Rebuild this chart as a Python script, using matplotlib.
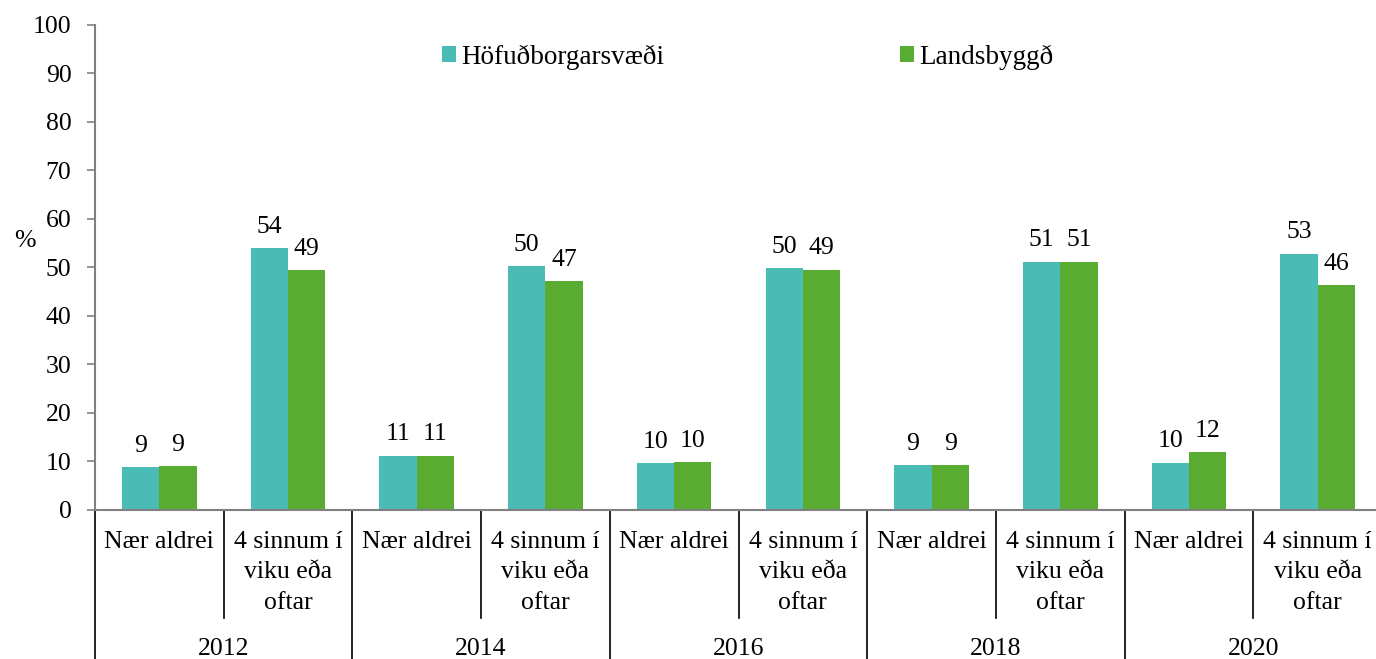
import matplotlib
matplotlib.use("Agg")
import matplotlib.pyplot as plt
import matplotlib.transforms as mtransforms
import numpy as np

plt.rcParams['font.family'] = 'Liberation Serif'

years = ["2012", "2014", "2016", "2018", "2020"]
categories = ["Nær aldrei", "4 sinnum í\nviku eða\noftar"]
series_names = ["Höfuðborgarsvæði", "Landsbyggð"]
hofud = [8.9, 53.9, 11.2, 50.2, 9.7, 49.9, 9.3, 51.2, 9.75, 52.8]
lands = [9.1, 49.4, 11.2, 47.2, 9.9, 49.5, 9.3, 51.2, 11.9, 46.4]
hofud_labels = ["9", "54", "11", "50", "10", "50", "9", "51", "10", "53"]
lands_labels = ["9", "49", "11", "47", "10", "49", "9", "51", "12", "46"]

teal = "#4BBBB6"
green = "#5AAB32"
FS = 18.5
LFS = 19.5
FAM = "Liberation Serif"

W, H = 1376, 659
fig = plt.figure(figsize=(W / 100, H / 100), dpi=100)
ax = fig.add_axes([95 / W, (H - 510) / H, (1382 - 95) / W, (510 - 24.7) / H])

n = len(hofud)
x = np.arange(n) + 0.5
bw = 0.29
b1 = ax.bar(x - bw / 2, hofud, bw, color=teal, label=series_names[0])
b2 = ax.bar(x + bw / 2, lands, bw, color=green, label=series_names[1])

for xi, v, t in zip(x - bw / 2, hofud, hofud_labels):
    ax.annotate(t, (xi, v), xytext=(0, 11), textcoords="offset points",
                ha="center", va="baseline", fontsize=FS, family=FAM)
for xi, v, t in zip(x + bw / 2, lands, lands_labels):
    ax.annotate(t, (xi, v), xytext=(0, 11), textcoords="offset points",
                ha="center", va="baseline", fontsize=FS, family=FAM)

ax.set_xlim(0, n)
ax.set_ylim(0, 100)
ax.set_yticks(np.arange(0, 101, 10))
ax.tick_params(axis="y", labelsize=FS, length=6, width=1.2, color="#808080", pad=11)
for lab in ax.get_yticklabels():
    lab.set_family(FAM)
ax.set_xticks([])
for s in ["top", "right"]:
    ax.spines[s].set_visible(False)
for s in ["left", "bottom"]:
    ax.spines[s].set_color("#808080")
    ax.spines[s].set_linewidth(1.5)

trans = mtransforms.blended_transform_factory(ax.transData, ax.transAxes)
# separators
for k in range(n + 1):
    if k % 2 == 0:
        ax.plot([k, k], [0, -0.33], color="black", lw=1.2, transform=trans, clip_on=False)
    else:
        ax.plot([k, k], [0, -0.2227], color="black", lw=1.2, transform=trans, clip_on=False)

# category labels
for i in range(n):
    ax.annotate(categories[i % 2], (x[i], 0), xycoords=trans, xytext=(0, -15),
                textcoords="offset points", ha="center", va="top",
                fontsize=FS, family=FAM, linespacing=1.5)
# year labels
for j, yr in enumerate(years):
    ax.annotate(yr, (2 * j + 1, 0), xycoords=trans, xytext=(0, -92.5),
                textcoords="offset points", ha="center", va="top", fontsize=FS, family=FAM)

fig.text(25 / W, 1 - 241 / H, "%", fontsize=FS, ha="center", va="center", family=FAM)

leg = fig.legend(handles=[b1, b2], loc="center left",
                 bbox_to_anchor=(442 / W, 1 - 57 / H), ncol=2, frameon=False,
                 prop={"family": FAM, "size": LFS}, handlelength=0.52, handleheight=0.52,
                 handletextpad=0.2, columnspacing=8.7, borderpad=0, borderaxespad=0)

fig.savefig("out.png", dpi=100)
